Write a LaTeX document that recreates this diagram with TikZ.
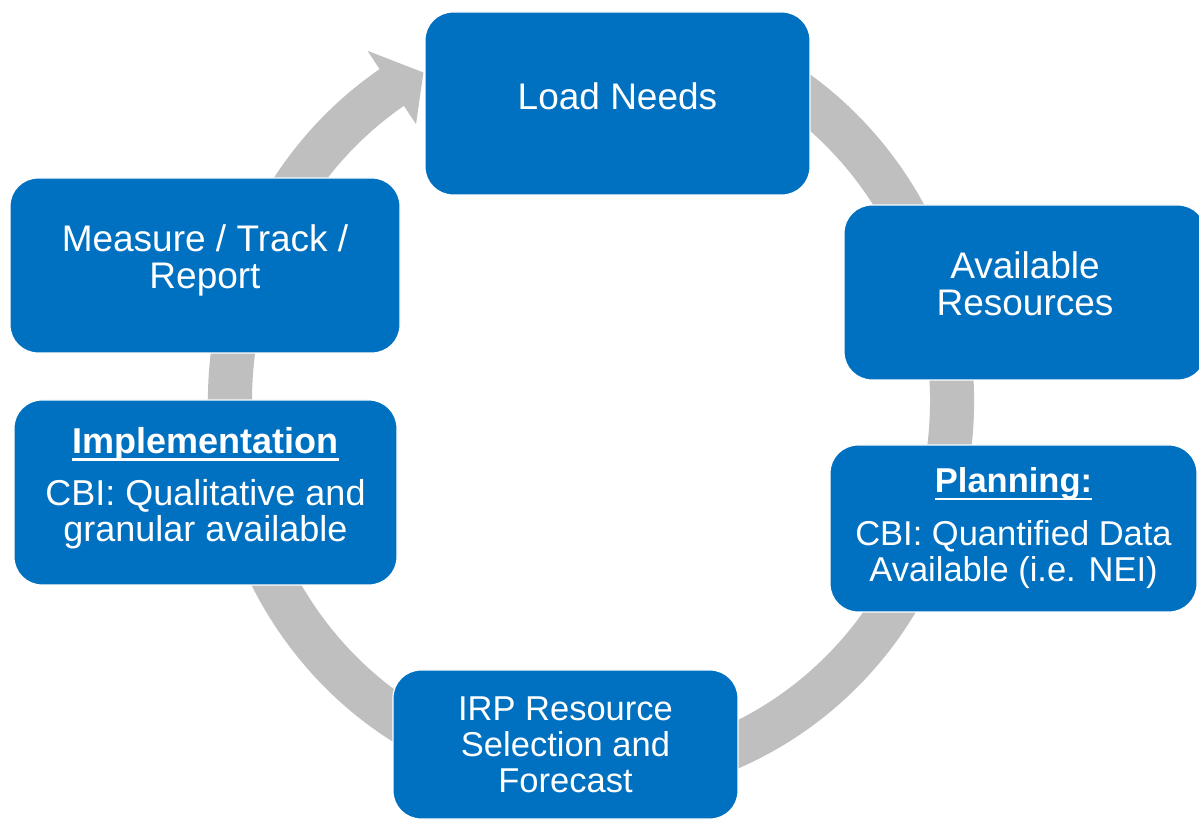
\documentclass[tikz,border=0pt]{standalone}
\usepackage{fontspec}
\setmainfont{Liberation Sans}
\usetikzlibrary{calc}
\definecolor{boxblue}{HTML}{0070C0}
\definecolor{ringgray}{HTML}{BFBFBF}
\newcommand\headline[1]{\setbox0\hbox{\bfseries #1}\rlap{\rule[-7.5pt]{\wd0}{2.8pt}}\box0}
\tikzset{
  stage/.style={draw=white,line width=1.2pt,fill=boxblue,rounded corners=28pt,text=white,align=center,font=\fontsize{37}{37}\selectfont,inner sep=0pt},
  fs/.style={font=\fontsize{#1}{36}\selectfont},
  lift/.style={execute at end node={\rule[-#1]{0pt}{#1}}},
  ring/.style={fill=ringgray,draw=none},
}

\begin{document}
\begin{tikzpicture}[x=1pt,y=1pt]
\useasboundingbox (0,0) rectangle (1199,819);
\clip (0,0) rectangle (1199,819);
\coordinate (c) at (591,418);
% cycle arrow, clockwise, behind the stages
\fill[ring] ($(c)+(72:383 and 398)$) arc[start angle=72,end angle=-236.5,x radius=383,y radius=398]
  -- ($(c)+(123.5:405 and 420)$) -- ($(c)+(118:357 and 372)$) -- ($(c)+(123.5:317 and 332)$)
  -- ($(c)+(123.5:339 and 354)$) arc[start angle=-236.5,end angle=72,x radius=339,y radius=354] -- cycle;
% stages
\node[stage,lift=14pt,minimum width=385,minimum height=183] (load) at (617.5,715.5) {Load Needs};
\node[stage,lift=18pt,minimum width=362,minimum height=175] (avail) at (1025,526.5) {Available\\Resources};
\node[stage,fs=34.5,minimum width=367,minimum height=167] (plan) at (1013.5,290.5) {\headline{Planning:}\\[17pt]CBI: Quantified Data\\Available (i.e. NEI)};
\node[stage,fs=34.5,minimum width=345,minimum height=149] (irp) at (565.5,74.5) {IRP Resource\\Selection and\\Forecast};
\node[stage,fs=36,lift=16pt,minimum width=383,minimum height=185] (impl) at (205.5,326.5) {\headline{Implementation}\\[16pt]CBI: Qualitative and\\granular available};
\node[stage,lift=18pt,minimum width=390,minimum height=175] (meas) at (205,553.5) {Measure / Track /\\Report};
\end{tikzpicture}
\end{document}
